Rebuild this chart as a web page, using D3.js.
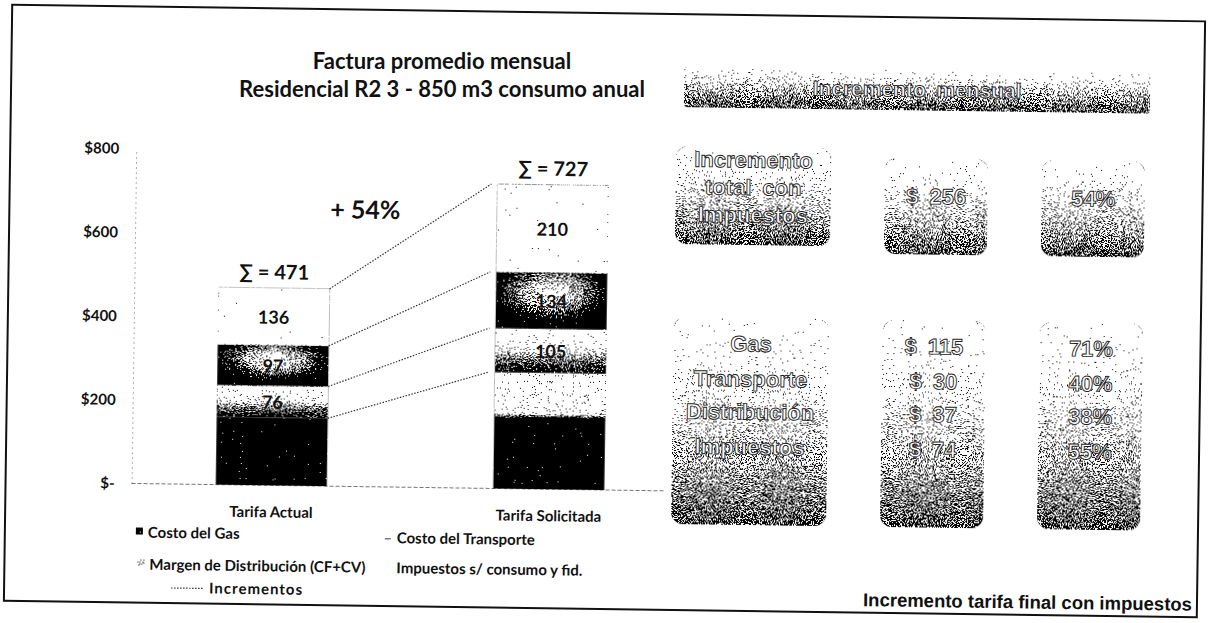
<!DOCTYPE html>
<html><head><meta charset="utf-8">
<script src="https://cdn.jsdelivr.net/npm/d3@7"></script>
<style>html,body{margin:0;padding:0;background:#fff;} svg{display:block;}</style>
</head><body>
<svg id="chart" width="1209" height="623"></svg>
<script>
// ---------- data ----------
const categories = ["Tarifa Actual", "Tarifa Solicitada"];
const costoGas = [162, 278];
const costoTransporte = [76, 105];
const margenDistribucion = [97, 134];
const impuestos = [136, 210];
const totales = [471, 727];
const yTickValues = [0, 200, 400, 600, 800];
const seriesNames = ["Costo del Gas", "Costo del Transporte", "Margen de Distribución (CF+CV)", "Impuestos s/ consumo y fid."];
const incrementName = "Incrementos";
const incrementPct = "+ 54%";
const titleLines = ["Factura promedio mensual", "Residencial R2 3 - 850 m3 consumo anual"];
const tableHeader = "Incremento mensual";
const totalRowLabel = ["Incremento", "total con", "Impuestos"];
const totalRowAmount = "$ 256";
const totalRowPct = "54%";
const tableRowLabels = ["Gas", "Transporte", "Distribución", "Impuestos"];
const tableRowAmounts = ["$ 115", "$ 30", "$ 37", "$ 74"];
const tableRowPcts = ["71%", "40%", "38%", "55%"];
const footerText = "Incremento tarifa final con impuestos";

// ---------- setup ----------
const svg = d3.select("#chart");
const defs = svg.append("defs");

// dithering filter (mimics the scanned print)
const f = defs.append("filter").attr("id", "dither").attr("x", 0).attr("y", 0)
  .attr("width", 1).attr("height", 1).attr("color-interpolation-filters", "sRGB");
f.append("feTurbulence").attr("type", "fractalNoise").attr("baseFrequency", 0.85)
  .attr("numOctaves", 2).attr("seed", 7).attr("result", "noise");
f.append("feColorMatrix").attr("in", "noise").attr("type", "matrix")
  .attr("values", "1 0 0 0 0  1 0 0 0 0  1 0 0 0 0  0 0 0 0 1").attr("result", "gray");
f.append("feComposite").attr("in", "SourceGraphic").attr("in2", "gray").attr("operator", "arithmetic")
  .attr("k1", 0).attr("k2", 1).attr("k3", 1.6).attr("k4", -0.8).attr("result", "sum");
const ct = f.append("feComponentTransfer").attr("in", "sum").attr("result", "bw");
["feFuncR", "feFuncG", "feFuncB"].forEach(n => ct.append(n).attr("type", "discrete").attr("tableValues", "0 1"));
f.append("feComposite").attr("in", "bw").attr("in2", "SourceAlpha").attr("operator", "in");

function linGrad(id, stops, attrs) {
  const g = defs.append("linearGradient").attr("id", id);
  Object.entries(attrs).forEach(([k, v]) => g.attr(k, v));
  stops.forEach(s => g.append("stop").attr("offset", s[0]).attr("stop-color", s[1]));
}
linGrad("boxGrad", [[0, "#f6f6f6"], [0.4, "#c4c4c4"], [1, "#6a6a6a"]], {x1: 0, y1: 0, x2: 0, y2: 1});
linGrad("bandGrad", [[0, "#f0f0f0"], [0.5, "#a0a0a0"], [1, "#666"]], {x1: 0, y1: 0, x2: 0, y2: 1});
linGrad("transGrad", [[0, "#3a3a3a"], [0.3, "#7a7a7a"], [0.6, "#d6d6d6"], [1, "#e8e8e8"]], {x1: 0, y1: 1, x2: 0, y2: 0});
const rg = defs.append("radialGradient").attr("id", "distGrad").attr("cx", 0.5).attr("cy", 0.35).attr("r", 0.55);
[[0, "#d4d4d4"], [0.5, "#8a8a8a"], [1, "#121212"]].forEach(s => rg.append("stop").attr("offset", s[0]).attr("stop-color", s[1]));

const chartFont = "Lato, 'Open Sans', sans-serif";

// title (kept level so the two lines do not collide)
titleLines.forEach((t, i) => {
  svg.append("text").attr("x", 442).attr("y", 60 + i * 28).attr("text-anchor", "middle").attr("dominant-baseline", "central")
    .attr("font-family", chartFont).attr("font-weight", 700).attr("font-size", 22).attr("fill", "#111").text(t);
});

const root = svg.append("g").attr("transform", "rotate(0.8, 604, 311)");

// border
root.append("rect").attr("x", 8).attr("y", 13).attr("width", 1193).attr("height", 596)
  .attr("fill", "none").attr("stroke", "#111").attr("stroke-width", 2);

// ---------- chart ----------
const y = d3.scaleLinear().domain([0, 800]).range([490, 155]);
const x = d3.scaleBand().domain(categories).range([135, 690]).paddingInner(0.6).paddingOuter(0.3);

// gas gradient in user space (the scan renders the upper part of the tall gas bar light)
linGrad("gasGrad", [[0, "#0c0c0c"], [0.56, "#0c0c0c"], [0.6, "#d2d2d2"], [1, "#dcdcdc"]],
  {gradientUnits: "userSpaceOnUse", x1: 0, y1: y(0), x2: 0, y2: y(300)});

const fills = ["url(#gasGrad)", "url(#transGrad)", "url(#distGrad)", "#ffffff"];

const rows = categories.map((c, i) => ({cat: c, gas: costoGas[i], tra: costoTransporte[i], dis: margenDistribucion[i], imp: impuestos[i]}));
const keys = ["gas", "tra", "dis", "imp"];
const stacked = d3.stack().keys(keys)(rows);

// y axis
const yAxis = d3.axisLeft(y).tickValues(yTickValues).tickSize(0).tickPadding(17)
  .tickFormat(d => d === 0 ? "$-" : "$" + d);
const ya = root.append("g").attr("transform", "translate(134,0)").call(yAxis);
ya.select(".domain").attr("stroke", "#b0b0b0").attr("stroke-width", 1).attr("stroke-dasharray", "2 3");
ya.selectAll("text").attr("font-family", chartFont).attr("font-weight", 700).attr("font-size", 15).attr("fill", "#111");

// baseline
root.append("line").attr("x1", 134).attr("x2", 668).attr("y1", y(0)).attr("y2", y(0))
  .attr("stroke", "#777").attr("stroke-width", 1).attr("stroke-dasharray", "4 2");

// bars
const layer = root.append("g").selectAll("g").data(stacked).join("g")
  .attr("fill", (d, i) => fills[i]);
layer.selectAll("rect").data(d => d.map(v => ({v, cat: v.data.cat}))).join("rect")
  .attr("x", d => x(d.cat)).attr("width", x.bandwidth())
  .attr("y", d => y(d.v[1])).attr("height", d => y(d.v[0]) - y(d.v[1]))
  .attr("filter", "url(#dither)");

// segment labels (transport, distribution, taxes)
stacked.forEach((s, si) => {
  if (si === 0) return;
  s.forEach(v => {
    root.append("text").attr("x", x(v.data.cat) + x.bandwidth() / 2)
      .attr("y", y((v[0] + v[1]) / 2)).attr("text-anchor", "middle").attr("dominant-baseline", "central")
      .attr("font-family", chartFont).attr("font-weight", 700).attr("font-size", 18).attr("fill", "#111")
      .text(v[1] - v[0]);
  });
});

// totals
categories.forEach((c, i) => {
  root.append("text").attr("x", x(c) + x.bandwidth() / 2).attr("y", y(totales[i]) - 17)
    .attr("text-anchor", "middle").attr("dominant-baseline", "central")
    .attr("font-family", chartFont).attr("font-weight", 700).attr("font-size", 20).attr("fill", "#111")
    .text("\u2211 = " + totales[i]);
});

// increment lines between cumulative tops
const cumA = stacked.map(s => s[0][1]);
const cumS = stacked.map(s => s[1][1]);
cumA.forEach((a, k) => {
  root.append("line")
    .attr("x1", x(categories[0]) + x.bandwidth()).attr("y1", y(a))
    .attr("x2", x(categories[1]) - 6).attr("y2", y(cumS[k]))
    .attr("stroke", "#333").attr("stroke-width", 1.2).attr("stroke-dasharray", "1.5 1.5");
});

root.append("text").attr("x", 364).attr("y", 212).attr("text-anchor", "middle").attr("dominant-baseline", "central")
  .attr("font-family", chartFont).attr("font-weight", 700).attr("font-size", 25).attr("fill", "#111").text(incrementPct);

// category labels
categories.forEach(c => {
  root.append("text").attr("x", x(c) + x.bandwidth() / 2).attr("y", 516)
    .attr("text-anchor", "middle").attr("dominant-baseline", "central")
    .attr("font-family", chartFont).attr("font-weight", 700).attr("font-size", 15).attr("fill", "#111").text(c);
});

// legend
const leg = root.append("g").attr("font-family", chartFont).attr("font-weight", 700).attr("font-size", 15).attr("fill", "#111");
const legPos = [[143, 538], [392, 540], [145, 570], [392, 570]];
seriesNames.forEach((n, i) => {
  const [lx, ly] = legPos[i];
  if (i === 0) leg.append("rect").attr("x", lx - 4).attr("y", ly - 4).attr("width", 7).attr("height", 7).attr("fill", "#222").attr("filter", "url(#dither)");
  if (i === 1) leg.append("rect").attr("x", lx - 4).attr("y", ly + 1).attr("width", 6).attr("height", 1.5).attr("fill", "#777");
  if (i === 2) leg.append("rect").attr("x", lx - 4).attr("y", ly - 4).attr("width", 7).attr("height", 7).attr("fill", "#aaa").attr("filter", "url(#dither)");
  leg.append("text").attr("x", lx + 8).attr("y", ly).attr("dominant-baseline", "central").text(n);
});
leg.append("line").attr("x1", 175).attr("x2", 208).attr("y1", 594).attr("y2", 594)
  .attr("stroke", "#333").attr("stroke-width", 1.2).attr("stroke-dasharray", "1.5 1.5");
leg.append("text").attr("x", 213).attr("y", 593).attr("dominant-baseline", "central")
  .attr("letter-spacing", 1).text(incrementName);

// ---------- table ----------
const tFont = "'Liberation Sans', Arial, sans-serif";
function tText(tx, ty, t, size) {
  root.append("text").attr("x", tx).attr("y", ty).attr("text-anchor", "middle").attr("dominant-baseline", "central")
    .attr("font-family", tFont).attr("font-weight", 700).attr("font-size", size)
    .attr("fill", "#fff").attr("stroke", "#222").attr("stroke-width", 0.9).text(t.replace(" ", "\u2002"));
}
root.append("rect").attr("x", 681).attr("y", 66).attr("width", 466).attr("height", 40).attr("rx", 4)
  .attr("fill", "url(#bandGrad)").attr("filter", "url(#dither)");
tText(914, 85, tableHeader, 21);

const cols = [[674, 155], [883, 103], [1040, 103]];
// row 1 boxes
[[145, 98], [154, 96], [154, 96]].forEach((r, i) => {
  root.append("rect").attr("x", cols[i][0]).attr("y", r[0]).attr("width", cols[i][1]).attr("height", r[1]).attr("rx", 12)
    .attr("fill", "url(#boxGrad)").attr("filter", "url(#dither)");
});
totalRowLabel.forEach((t, i) => tText(cols[0][0] + cols[0][1] / 2, 158 + i * 27.5, t, 22));
tText(cols[1][0] + cols[1][1] / 2, 192, totalRowAmount, 22);
tText(cols[2][0] + cols[2][1] / 2, 192, totalRowPct, 22);

// row 2 boxes
cols.forEach(c => {
  root.append("rect").attr("x", c[0]).attr("y", 316).attr("width", c[1]).attr("height", 207).attr("rx", 12)
    .attr("fill", "url(#boxGrad)").attr("filter", "url(#dither)");
});
const rowY = [342, 377, 410, 445];
tableRowLabels.forEach((t, i) => tText(cols[0][0] + cols[0][1] / 2, rowY[i], t, 22));
tableRowAmounts.forEach((t, i) => tText(cols[1][0] + cols[1][1] / 2, rowY[i], t, 22));
tableRowPcts.forEach((t, i) => tText(cols[2][0] + cols[2][1] / 2, rowY[i], t, 22));

// footer
root.append("text").attr("x", 1196).attr("y", 596).attr("text-anchor", "end").attr("dominant-baseline", "central")
  .attr("font-family", tFont).attr("font-weight", 700).attr("font-size", 18.5).attr("fill", "#111").text(footerText);
</script>
</body></html>
